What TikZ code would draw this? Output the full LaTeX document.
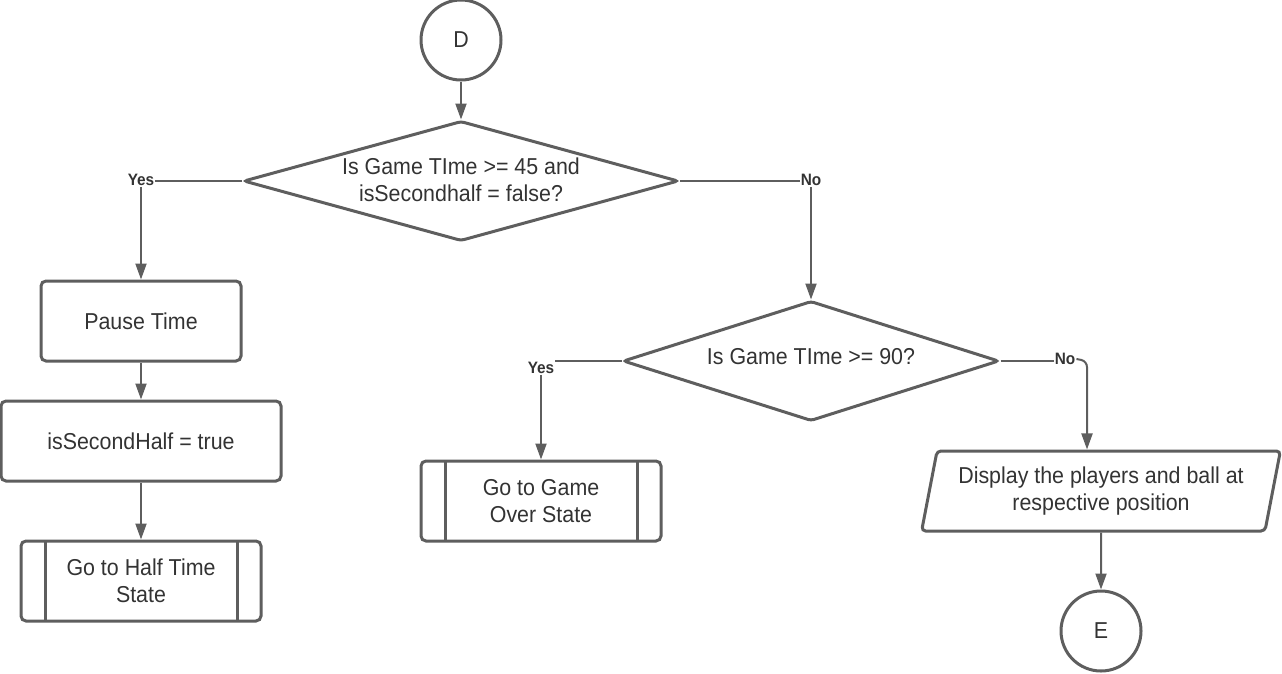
\documentclass[tikz,border=0pt]{standalone}
\usepackage{fontspec}
\setmainfont[FakeStretch=0.93]{Liberation Sans}
\usetikzlibrary{shapes.geometric,arrows.meta}
\definecolor{linegray}{HTML}{5E5E5E}
\definecolor{textgray}{HTML}{333333}
\tikzset{
  outline/.style={draw=linegray, line width=3pt, text=textgray, align=center,
    font=\fontsize{23}{27}\selectfont},
  box/.style={outline, rounded corners=5pt, minimum width=#1, minimum height=80pt},
  subproc/.style={box=#1, path picture={
    \draw[linegray, line width=3pt]
      ([xshift=24pt]path picture bounding box.north west) -- ([xshift=24pt]path picture bounding box.south west)
      ([xshift=-24pt]path picture bounding box.north east) -- ([xshift=-24pt]path picture bounding box.south east);}},
  decision/.style={outline, diamond, rounded corners=3pt, inner sep=0pt, minimum width=#1, minimum height=120pt},
  qtext/.style={text=textgray, align=center, font=\fontsize{23}{27}\selectfont},
  io/.style={outline, trapezium, trapezium left angle=76, trapezium right angle=104,
    trapezium stretches=true, rounded corners=4pt, minimum width=359pt, minimum height=80pt},
  conn/.style={outline, circle, minimum size=80pt, inner sep=0pt},
  yesno/.style={text=textgray, inner sep=1pt, font=\bfseries\fontsize{16.5}{19}\selectfont},
  flow/.style={draw=linegray, line width=2pt},
}
\begin{document}
\begin{tikzpicture}[x=1pt,y=-1pt]
  \useasboundingbox (0,0) rectangle (1282,673);
  \node[conn] (d) at (461,40) {D};
  \node[decision=435] (q1) at (461,181) {};
  \node[qtext] (q1text) at (461,180) {Is Game TIme >= 45 and\\isSecondhalf = false?};
  \node[yesno] (yes1) at (141,180) {Yes};
  \node[box=200] (pause) at (141,321) {Pause Time};
  \node[box=280] (second) at (141,441) {isSecondHalf = true};
  \node[subproc=240] (half) at (141,581) {Go to Half Time\\State};
  \node[yesno] (no1) at (811,180) {No};
  \node[decision=376] (q2) at (811,361) {};
  \node[qtext] (q2text) at (811,357) {Is Game TIme >= 90?};
  \node[yesno] (yes2) at (541,368) {Yes};
  \node[subproc=240] (over) at (541,501) {Go to Game\\Over State};
  \node[yesno] (no2) at (1065,359) {No};
  \coordinate (bend) at (1087,361);
  \node[io] (disp) at (1101,491) {Display the players and ball at\\respective position};
  \node[conn] (e) at (1101,631) {E};
  \begin{scope}[flow]
    \draw (q1.west) to (q1.west -| yes1.east);
    \draw (q1.east) to (q1.east -| no1.west);
    \draw (q2.west) to (q2.west -| yes2.east);
    \draw (q2.east) to (q2.east -| no2.west);
  \end{scope}
  \begin{scope}[flow, -{Triangle[length=16pt,width=11pt]}]
    \draw (d) to (q1);
    \draw (yes1) to (pause);
    \draw (pause) to (second);
    \draw (second) to (half);
    \draw (no1) to (q2);
    \draw (yes2) to (over);
    \draw[rounded corners=6pt] (no2.east) -- (bend) -- (bend |- disp.north);
    \draw (disp) to (e);
  \end{scope}
\end{tikzpicture}
\end{document}
